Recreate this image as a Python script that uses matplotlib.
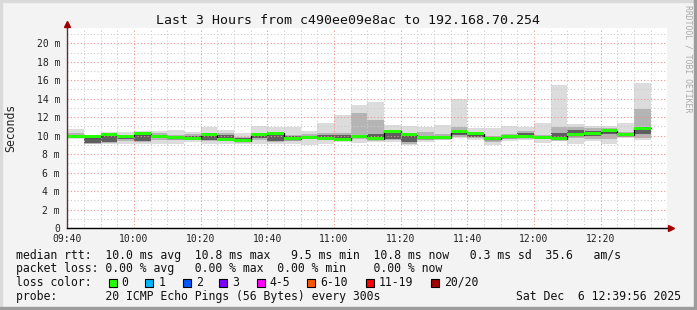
import matplotlib
matplotlib.use('Agg')
import matplotlib.pyplot as plt
from matplotlib.patches import Rectangle
from matplotlib.ticker import MultipleLocator, FixedLocator, FixedFormatter, FuncFormatter
import numpy as np

W, H = 697, 310
MONO = 'DejaVu Sans Mono'

# 5 minute bins, minutes after 09:40
bin_start = np.arange(0, 175, 5)

# ping rtt in ms per bin
rtt_min = [9.6, 9.05, 9.05, 9.05, 9.15, 9.05, 9.05, 9.3, 9.05, 9.15,
           9.15, 9.05, 9.05, 9.05, 8.97, 9.15, 9.5, 9.2, 9.3, 9.33,
           8.94, 9.3, 9.5, 9.7, 9.5, 9.0, 9.4, 9.5, 9.2, 9.4,
           9.15, 9.4, 9.15, 9.8, 9.5]
rtt_max = [10.7, 10.1, 10.4, 10.35, 10.5, 10.5, 10.6, 10.45, 10.95, 10.65,
           10.3, 11.0, 10.9, 10.9, 10.5, 11.4, 12.2, 13.3, 13.65, 11.2,
           11.03, 10.96, 11.14, 13.98, 10.78, 10.78, 11.03, 10.96, 11.4, 15.5,
           11.23, 11.1, 11.03, 11.42, 15.7]
rtt_lo = [9.8, 9.15, 9.2, 9.4, 9.3, 9.5, 9.5, 9.5, 9.4, 9.6,
          9.4, 9.5, 9.3, 9.4, 9.6, 9.6, 9.6, 9.6, 9.6, 9.5,
          9.1, 9.5, 9.6, 9.9, 9.8, 9.3, 9.6, 9.7, 9.6, 9.5,
          9.8, 9.6, 9.6, 9.9, 9.8]
rtt_hi = [10.3, 9.9, 10.15, 10.1, 10.3, 10.3, 10.1, 10.2, 10.3, 10.3,
          9.9, 10.3, 10.3, 10.1, 10.2, 10.3, 10.3, 12.5, 11.7, 10.5,
          10.3, 10.4, 10.2, 10.9, 10.4, 10.0, 10.2, 10.5, 10.1, 10.96,
          10.9, 10.8, 10.8, 10.4, 12.9]
core_lo = [9.85, 9.2, 9.3, 9.6, 9.4, 9.7, 9.7, 9.6, 9.5, 9.7,
           9.5, 9.7, 9.4, 9.6, 9.7, 9.8, 9.8, 9.8, 9.7, 9.6,
           9.3, 9.6, 9.7, 10.1, 9.9, 9.5, 9.7, 9.8, 9.7, 9.6,
           10.0, 10.0, 10.2, 10.0, 10.2]
core_hi = [10.1, 9.7, 10.0, 10.0, 10.1, 10.1, 9.9, 10.0, 10.1, 10.1,
           9.8, 10.1, 10.2, 10.0, 10.0, 10.1, 10.1, 10.1, 10.2, 10.3,
           10.0, 10.0, 9.9, 10.6, 10.2, 9.8, 9.9, 10.3, 9.9, 10.3,
           10.6, 10.5, 10.6, 10.2, 10.7]
median = [9.95, 9.9, 10.1, 9.95, 10.2, 9.95, 9.8, 9.73, 10.1, 9.6,
          9.45, 10.1, 10.27, 9.66, 9.84, 9.7, 9.55, 9.94, 9.66, 10.48,
          10.09, 9.77, 9.77, 10.45, 10.23, 9.69, 9.89, 9.9, 9.83, 9.69,
          10.09, 10.27, 10.52, 10.12, 10.81]

x_ticks = [0, 20, 40, 60, 80, 100, 120, 140, 160]
x_labels = ['09:40', '10:00', '10:20', '10:40', '11:00', '11:20', '11:40', '12:00', '12:20']

loss_labels = ['0', '1', '2', '3', '4-5', '6-10', '11-19', '20/20']
loss_colors = ['#26ff00', '#00b8ff', '#0059ff', '#7e00ff', '#ff00ff', '#ff5500', '#ff0000', '#a00000']

title = 'Last 3 Hours from c490ee09e8ac to 192.168.70.254'
legend_lines = [
    'median rtt:  10.0 ms avg  10.8 ms max   9.5 ms min  10.8 ms now   0.3 ms sd  35.6   am/s',
    'packet loss: 0.00 % avg   0.00 % max  0.00 % min    0.00 % now',
    'loss color:',
    'probe:       20 ICMP Echo Pings (56 Bytes) every 300s',
]
stamp = 'Sat Dec  6 12:39:56 2025'


def fx(px):
    return px / W


def fy(py):
    return 1 - py / H


fig = plt.figure(figsize=(W / 100, H / 100), dpi=100)
fig.patch.set_facecolor('#f3f3f3')

# frame round the image
fig.patches.append(Rectangle((0, 1 - 2 / H), 1, 2 / H, transform=fig.transFigure, color='#dadada', zorder=0))
fig.patches.append(Rectangle((0, 0), 2 / W, 1, transform=fig.transFigure, color='#dadada', zorder=0))
fig.patches.append(Rectangle((1 - 3 / W, 0), 3 / W, 1, transform=fig.transFigure, color='#9c9c9c', zorder=0))
fig.patches.append(Rectangle((0, 0), 1, 3 / H, transform=fig.transFigure, color='#9c9c9c', zorder=0))

ax = fig.add_axes([fx(67), fy(228), 600 / W, 200 / H])
ax.set_facecolor('white')

rtt_min, rtt_max = np.array(rtt_min), np.array(rtt_max)
rtt_lo, rtt_hi = np.array(rtt_lo), np.array(rtt_hi)
core_lo, core_hi = np.array(core_lo), np.array(core_hi)
median = np.array(median)

# smoke
for lo, hi, c in [(rtt_min, rtt_max, '#dcdcdc'), (rtt_lo, rtt_hi, '#b4b4b4'), (core_lo, core_hi, '#5e5e5e')]:
    ax.bar(bin_start, hi - lo, bottom=lo, width=5, align='edge', color=c, linewidth=0, zorder=1)

# median
edges = np.append(bin_start, bin_start[-1] + 5)
ax.stairs(median, edges, baseline=None, color='black', lw=0.9, zorder=3)
ax.bar(bin_start, 0.32, bottom=median - 0.16, width=5, align='edge', color=loss_colors[0], linewidth=0, zorder=4)

ax.set_xlim(-4 / 60, 180 - 4 / 60)
ax.set_ylim(0, 21.66)

ax.xaxis.set_major_locator(FixedLocator(x_ticks))
ax.xaxis.set_major_formatter(FixedFormatter(x_labels))
ax.xaxis.set_minor_locator(MultipleLocator(5))
ax.yaxis.set_major_locator(MultipleLocator(2))
ax.yaxis.set_minor_locator(MultipleLocator(1))
ax.yaxis.set_major_formatter(FuncFormatter(lambda v, p: '%d m' % v if v > 0 else '0'))

ax.set_axisbelow(False)
ax.grid(which='minor', color='#cccccc', ls=(0, (1, 2)), lw=0.8)
ax.grid(which='major', color='#f29090', ls=(0, (1, 2)), lw=0.8)

ax.tick_params(which='both', length=0)
ax.tick_params(axis='x', pad=4, labelsize=7)
ax.tick_params(axis='y', pad=5, labelsize=7)
for lab in ax.get_xticklabels() + ax.get_yticklabels():
    lab.set_family(MONO)
    lab.set_color('#222222')

for s in ax.spines.values():
    s.set_visible(False)

# axis lines with arrows
ax.plot([0, 0], [0, 1.02], transform=ax.transAxes, color='#553333', lw=1, clip_on=False, zorder=5)
ax.plot([0, 1.006], [0, 0], transform=ax.transAxes, color='black', lw=1, clip_on=False, zorder=5)
ax.plot([0], [1.022], transform=ax.transAxes, marker='^', ms=5, color='#a00000', clip_on=False, zorder=6)
ax.plot([1.006], [0], transform=ax.transAxes, marker='>', ms=5, color='#a00000', clip_on=False, zorder=6)

fig.text(fx(11), fy(128), 'Seconds', rotation=90, ha='center', va='center', family=MONO, fontsize=8.3, color='#222222')
fig.text(fx(348), fy(24), title, ha='center', va='baseline', family=MONO, fontsize=9.5, color='#111111')
fig.text(fx(688), fy(5), 'RRDTOOL / TOBI OETIKER', rotation=-90, ha='center', va='top', family=MONO, fontsize=5.9, color='#aaaaaa')

baselines = [258.5, 272.2, 285.9, 299.6]
for line, b in zip(legend_lines, baselines):
    fig.text(fx(16), fy(b), line, ha='left', va='baseline', family=MONO, fontsize=8.3, color='#111111')
fig.text(fx(681), fy(299.6), stamp, ha='right', va='baseline', family=MONO, fontsize=8.3, color='#111111')

box_x = [108.7, 145.3, 182.7, 219.3, 256.7, 307.3, 365.7, 430.7]
for bx, lab, c in zip(box_x, loss_labels, loss_colors):
    fig.patches.append(Rectangle((fx(bx), fy(286.5)), 8 / W, 8 / H, transform=fig.transFigure,
                                 facecolor=c, edgecolor='black', lw=0.8))
    fig.text(fx(bx + 13), fy(285.9), lab, ha='left', va='baseline', family=MONO, fontsize=8.3, color='#111111')

fig.savefig('out.png', dpi=100, facecolor=fig.get_facecolor())
